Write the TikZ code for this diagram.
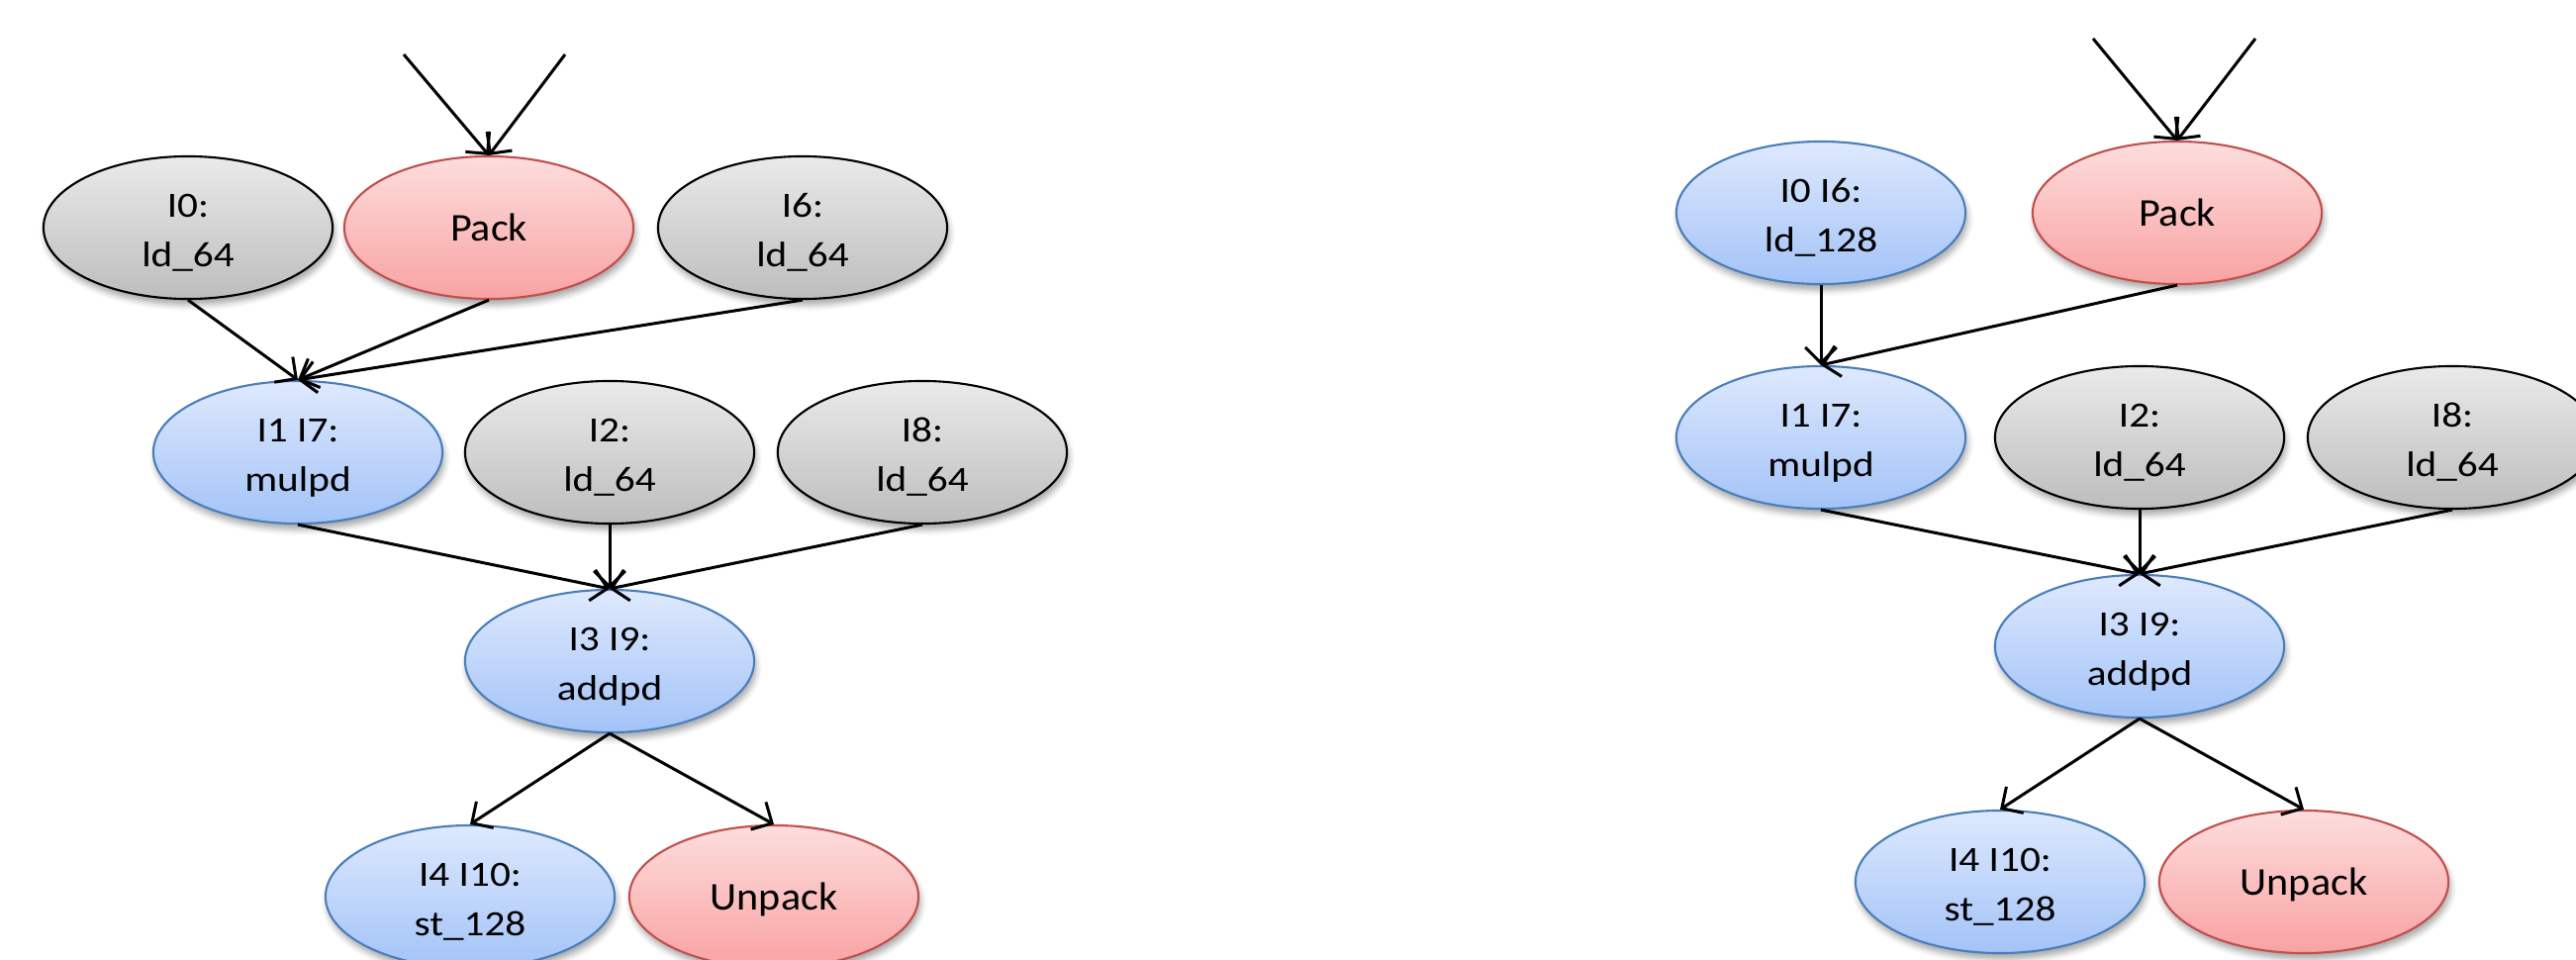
\documentclass[tikz,border=0pt]{standalone}
\usepackage{fontspec}
\setmainfont[FakeStretch=1.15]{Carlito}
\newfontfamily\wordfont[FakeStretch=1.06]{Carlito}
\usetikzlibrary{shapes.geometric,arrows.meta,shadows.blur}

\definecolor{greyTop}{HTML}{EAEAEA}
\definecolor{greyBot}{HTML}{BDBDBD}
\definecolor{blueTop}{HTML}{DEE9FD}
\definecolor{blueBot}{HTML}{A3C3F8}
\definecolor{blueLine}{HTML}{4A7EBB}
\definecolor{redTop}{HTML}{FDDDDD}
\definecolor{redBot}{HTML}{F9A2A2}
\definecolor{redLine}{HTML}{C0504D}

\tikzset{
  op/.style={ellipse, minimum width=2.92cm, minimum height=1.44cm, inner sep=0pt,
    align=center, line width=0.6pt,
    font=\fontsize{10.2}{14.2}\selectfont,
    % two-line labels: box measured from the last baseline
    text height=0.78cm, text depth=0cm,
    blur shadow={shadow xshift=0.02cm, shadow yshift=-0.06cm,
      shadow blur radius=0.06cm, shadow opacity=35}},
  scalarop/.style={op, draw=black, top color=greyTop, bottom color=greyBot},
  vectorop/.style={op, draw=blueLine, top color=blueTop, bottom color=blueBot},
  packop/.style={op, draw=redLine, top color=redTop, bottom color=redBot,
    font=\wordfont\fontsize{11.3}{13.6}\selectfont,
    text height=0.26cm, text depth=0cm},
  dep/.style={line width=0.85pt, -{Straight Barb[length=4.5pt,width=9pt]}}
}

\begin{document}
\begin{tikzpicture}[x=0.01cm, y=-0.01cm]
\useasboundingbox (0,0) rectangle (2603,970);
\clip (0,0) rectangle (2603,970);

% ---- left graph: 64-bit loads packed before the multiply ----
\node[scalarop] (l0)   at (190,230) {I0:\\ld\_64};
\node[packop]   (lpk)  at (494,230) {Pack};
\node[scalarop] (l6)   at (811,230) {I6:\\ld\_64};
\node[vectorop] (l17)  at (301,457) {I1 I7:\\mulpd};
\node[scalarop] (l2)   at (616,457) {I2:\\ld\_64};
\node[scalarop] (l8)   at (932,457) {I8:\\ld\_64};
\node[vectorop] (l39)  at (616,668) {I3 I9:\\addpd};
\node[vectorop] (l410) at (475,906) {I4 I10:\\st\_128};
\node[packop]   (lup)  at (782,906) {Unpack};

\coordinate (lin1) at (408,55);
\coordinate (lin2) at (571,55);
\draw[dep] (lin1) -- (lpk.north);
\draw[dep] (lin2) -- (lpk.north);

\draw[dep] (l0.south)  -- (l17.north);
\draw[dep] (lpk.south) -- (l17.north);
\draw[dep] (l6.south)  -- (l17.north);
\draw[dep] (l17.south) -- (l39.north);
\draw[dep] (l2.south)  -- (l39.north);
\draw[dep] (l8.south)  -- (l39.north);
\draw[dep] (l39.south) -- (l410.north);
\draw[dep] (l39.south) -- (lup.north);

% ---- right graph: I0 and I6 merged into one 128-bit load ----
\node[vectorop] (r06)  at (1840,215) {I0 I6:\\ld\_128};
\node[packop]   (rpk)  at (2200,215) {Pack};
\node[vectorop] (r17)  at (1840,442) {I1 I7:\\mulpd};
\node[scalarop] (r2)   at (2162,442) {I2:\\ld\_64};
\node[scalarop] (r8)   at (2478,442) {I8:\\ld\_64};
\node[vectorop] (r39)  at (2162,653) {I3 I9:\\addpd};
\node[vectorop] (r410) at (2021,891) {I4 I10:\\st\_128};
\node[packop]   (rup)  at (2328,891) {Unpack};

\coordinate (rin1) at (2115,39);
\coordinate (rin2) at (2279,39);
\draw[dep] (rin1) -- (rpk.north);
\draw[dep] (rin2) -- (rpk.north);

\draw[dep] (r06.south) -- (r17.north);
\draw[dep] (rpk.south) -- (r17.north);
\draw[dep] (r17.south) -- (r39.north);
\draw[dep] (r2.south)  -- (r39.north);
\draw[dep] (r8.south)  -- (r39.north);
\draw[dep] (r39.south) -- (r410.north);
\draw[dep] (r39.south) -- (rup.north);
\end{tikzpicture}
\end{document}
